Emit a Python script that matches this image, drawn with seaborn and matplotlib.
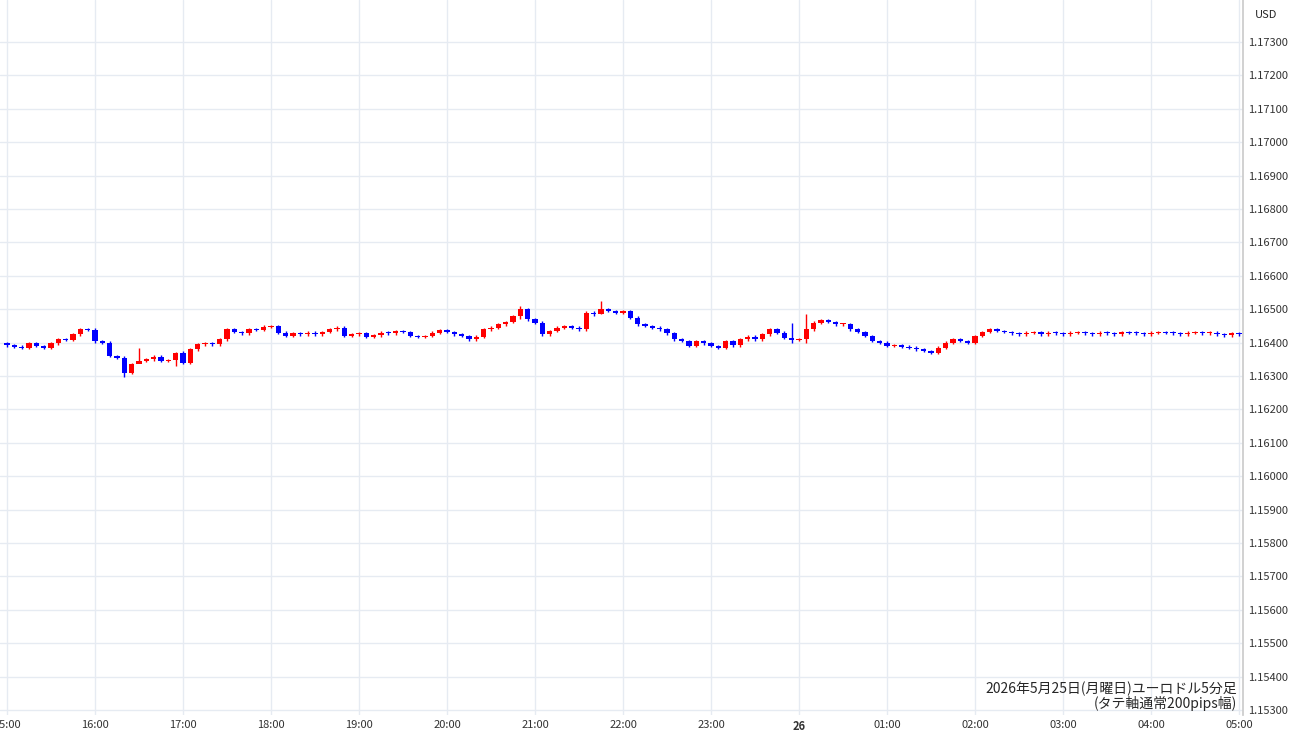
import numpy as np
import matplotlib.pyplot as plt
import seaborn as sns

# ユーロドル 5分足 終値 (15:00 - 05:00)
closes = [
    1.16392, 1.16388, 1.16385, 1.16398, 1.16390, 1.16385, 1.16398, 1.16410, 1.16408, 1.16425, 1.16440, 1.16438,
    1.16405, 1.16400, 1.16360, 1.16355, 1.16310, 1.16335, 1.16345, 1.16350, 1.16358, 1.16345, 1.16348, 1.16370,
    1.16340, 1.16380, 1.16395, 1.16398, 1.16395, 1.16410, 1.16440, 1.16432, 1.16428, 1.16440, 1.16438, 1.16448,
    1.16450, 1.16430, 1.16420, 1.16428, 1.16425, 1.16430, 1.16425, 1.16432, 1.16440, 1.16445, 1.16420, 1.16425,
    1.16428, 1.16418, 1.16422, 1.16430, 1.16428, 1.16435, 1.16432, 1.16420, 1.16418, 1.16420, 1.16430, 1.16438,
    1.16432, 1.16425, 1.16420, 1.16410, 1.16418, 1.16440, 1.16445, 1.16455, 1.16462, 1.16480, 1.16500, 1.16470,
    1.16460, 1.16425, 1.16435, 1.16445, 1.16450, 1.16445, 1.16440, 1.16490, 1.16485, 1.16500, 1.16495, 1.16490,
    1.16495, 1.16475, 1.16455, 1.16450, 1.16445, 1.16440, 1.16428, 1.16410, 1.16405, 1.16390, 1.16405, 1.16398,
    1.16390, 1.16385, 1.16405, 1.16392, 1.16410, 1.16418, 1.16410, 1.16425, 1.16440, 1.16430, 1.16415, 1.16408,
    1.16410, 1.16440, 1.16460, 1.16468, 1.16462, 1.16455, 1.16455, 1.16440, 1.16432, 1.16420, 1.16405, 1.16400,
    1.16390, 1.16392, 1.16388, 1.16385, 1.16380, 1.16375, 1.16370, 1.16385, 1.16400, 1.16410, 1.16405, 1.16400,
    1.16420, 1.16432, 1.16440, 1.16435, 1.16432, 1.16428, 1.16425, 1.16430, 1.16432, 1.16425, 1.16430, 1.16428,
    1.16425, 1.16430, 1.16432, 1.16428, 1.16425, 1.16430, 1.16428, 1.16425, 1.16432, 1.16430, 1.16428, 1.16425,
    1.16430, 1.16432, 1.16430, 1.16428, 1.16425, 1.16430, 1.16432, 1.16428, 1.16430, 1.16425, 1.16422, 1.16428,
    1.16425,
]
first_open = 1.16398
# 目立つヒゲ (index: (high, low))
spikes = {16: (1.16360, 1.16298), 18: (1.16385, 1.16340), 23: (1.16372, 1.16330),
          70: (1.16510, 1.16470), 81: (1.16525, 1.16485), 109: (1.16485, 1.16400),
          107: (1.16460, 1.16400), 12: (1.16445, 1.16400)}

price_ticks = [1.153 + 0.001 * i for i in range(21)]
time_labels = ["15:00", "16:00", "17:00", "18:00", "19:00", "20:00", "21:00", "22:00", "23:00",
               "26", "01:00", "02:00", "03:00", "04:00", "05:00"]

sns.set_theme(style="white")
plt.rcParams['font.family'] = ['Noto Sans CJK JP', 'DejaVu Sans']

fig = plt.figure(figsize=(13, 7.45), dpi=100)
ax = fig.add_axes([0, 1 - 715 / 745, 1243 / 1300, 715 / 745])

opens = [first_open] + closes[:-1]
t = np.arange(len(closes)) / 12.0
for i, (o, c) in enumerate(zip(opens, closes)):
    col = "#ff0000" if c >= o else "#0000ff"
    hi, lo = spikes.get(i, (max(o, c) + 0.00004, min(o, c) - 0.00004))
    ax.vlines(t[i], lo, hi, color=col, lw=1)
    body = max(abs(c - o), 0.000025)
    ax.bar(t[i], body, bottom=min(o, c), width=0.058, color=col, linewidth=0)

ax.set_xlim(-7 / 88, 1236 / 88)
ax.set_ylim(1.173 - (715 - 42) / 33400, 1.173 + 42 / 33400)
ax.set_xticks(range(len(time_labels)))
ax.set_xticklabels(time_labels)
for lab in ax.get_xticklabels():
    if lab.get_text() == "26":
        lab.set_fontweight("bold")
ax.set_yticks(price_ticks)
ax.set_yticklabels([f"{p:.5f}" for p in price_ticks])
ax.yaxis.tick_right()
ax.tick_params(axis="both", labelsize=8, colors="#333333", length=0)
ax.grid(True, color="#e6ebf2", lw=1)
for s in ["top", "left", "bottom"]:
    ax.spines[s].set_visible(False)
ax.spines["right"].set_color("#cccccc")

fig.text(1255 / 1300, 1 - 15 / 745, "USD", fontsize=8, va="center")
ax.text(0.995, 0.005, "2026年5月25日(月曜日)ユーロドル5分足\n(タテ軸通常200pips幅)",
        transform=ax.transAxes, ha="right", va="bottom", fontsize=10, linespacing=1.0)

fig.savefig("out.png", dpi=100, facecolor="white")
